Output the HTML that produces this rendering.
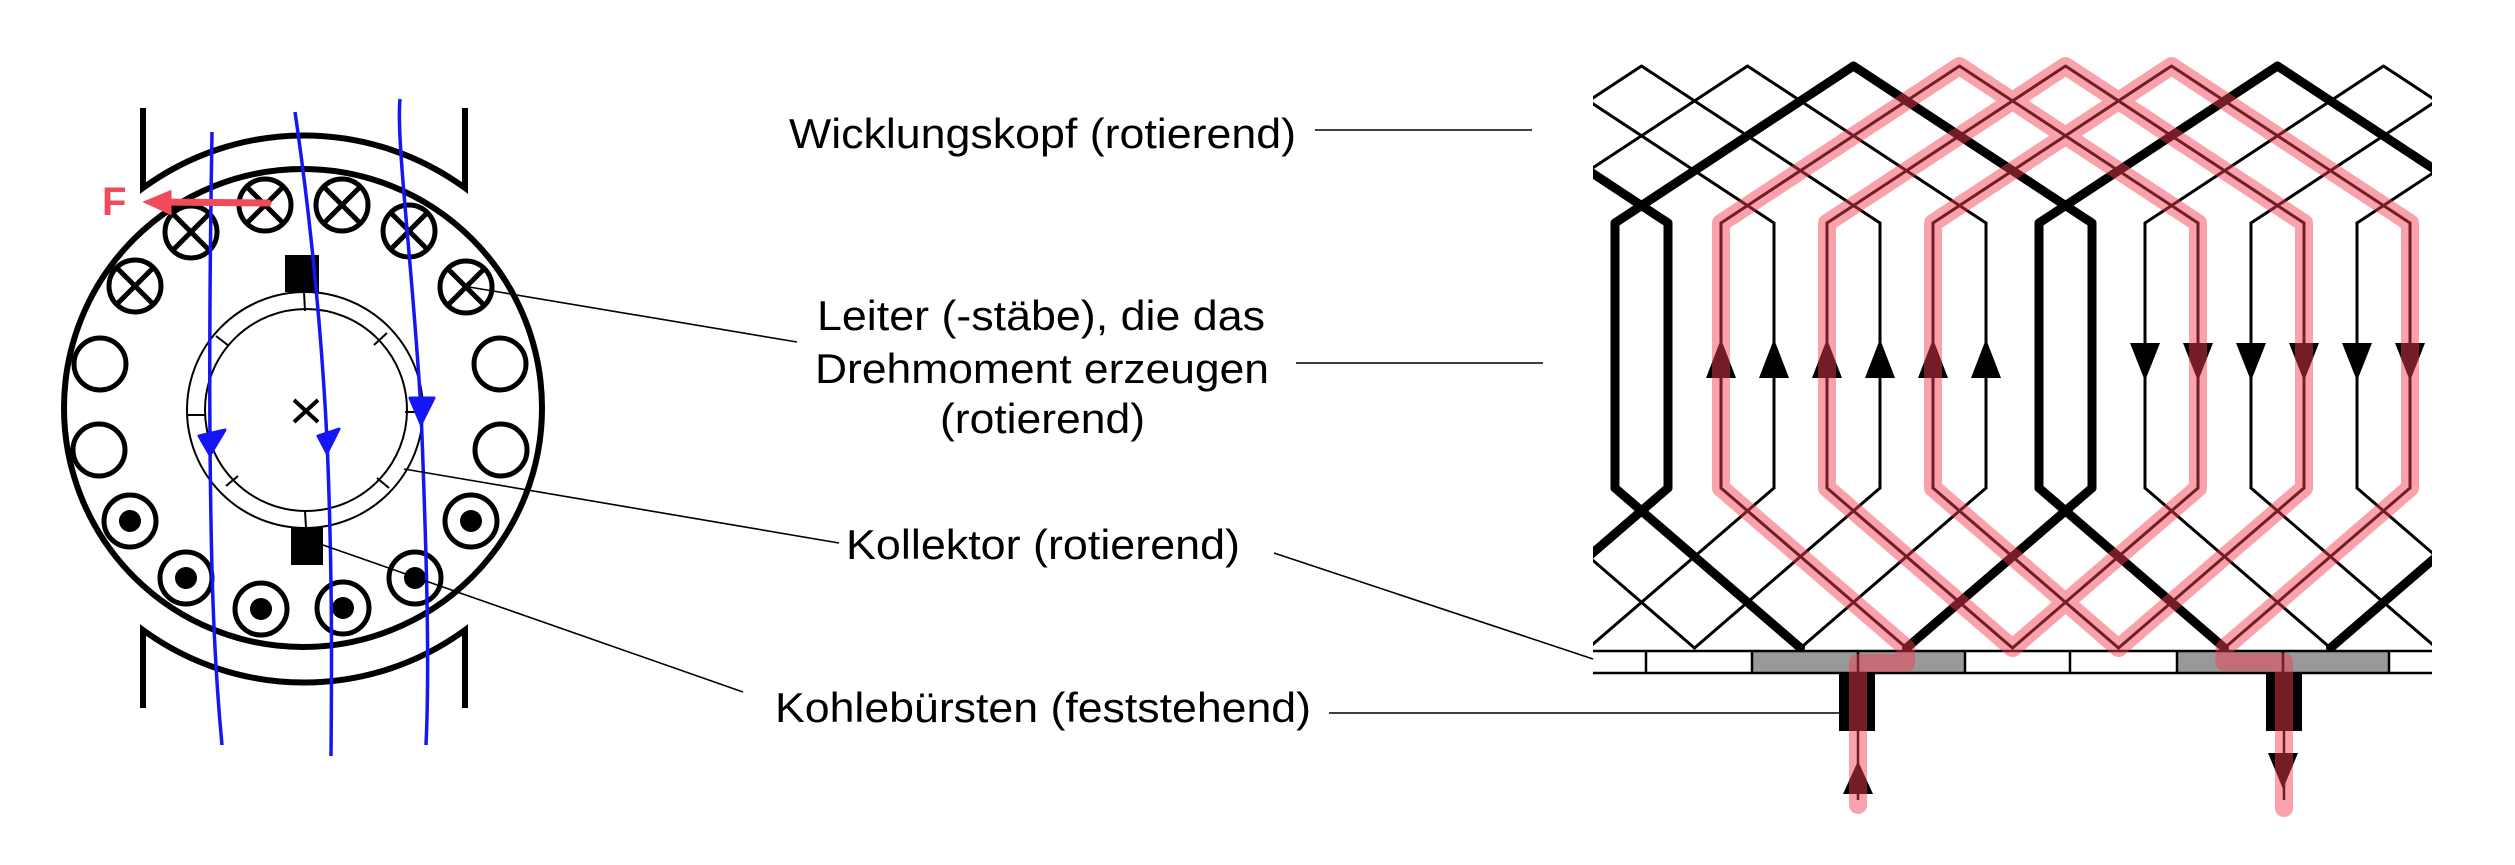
<!DOCTYPE html>
<html><head><meta charset="utf-8"><style>
html,body{margin:0;padding:0;background:#fff;}
svg{display:block;}
text{font-family:"Liberation Sans",Arial,sans-serif;font-size:42px;fill:#000;}
</style></head><body>
<svg width="2515" height="865" viewBox="0 0 2515 865" xmlns="http://www.w3.org/2000/svg">
<defs><clipPath id="wc"><rect x="1593" y="0" width="839" height="660"/></clipPath></defs>

<!-- LEFT DIAGRAM -->
<g fill="none" stroke="#000" stroke-width="6">
  <path d="M143,108 L143,188 A273,273 0 0 1 465,188 L465,108"/>
  <path d="M143,708 L143,630 A273,273 0 0 0 465,630 L465,708"/>
  <circle cx="303" cy="408" r="239"/>
</g>
<g fill="none" stroke="#000" stroke-width="5">
  <circle cx="191" cy="232" r="26"/><path d="M173,214 L209,250 M209,214 L173,250"/>
  <circle cx="265" cy="205" r="26"/><path d="M247,187 L283,223 M283,187 L247,223"/>
  <circle cx="342" cy="205" r="26"/><path d="M324,187 L360,223 M360,187 L324,223"/>
  <circle cx="409" cy="231" r="26"/><path d="M391,213 L427,249 M427,213 L391,249"/>
  <circle cx="466" cy="287" r="26"/><path d="M448,269 L484,305 M484,269 L448,305"/>
  <circle cx="135" cy="286" r="26"/><path d="M117,268 L153,304 M153,268 L117,304"/>
  <circle cx="100" cy="364" r="26"/><circle cx="99" cy="450" r="26"/>
  <circle cx="500" cy="364" r="26"/><circle cx="501" cy="450" r="26"/>
  <circle cx="130" cy="521" r="26"/><circle cx="186" cy="578" r="26"/>
  <circle cx="261" cy="609" r="26"/><circle cx="343" cy="608" r="26"/>
  <circle cx="415" cy="578" r="26"/><circle cx="471" cy="521" r="26"/>
</g>
<g fill="#000">
  <circle cx="130" cy="521" r="11"/><circle cx="186" cy="578" r="11"/>
  <circle cx="261" cy="609" r="11"/><circle cx="343" cy="608" r="11"/>
  <circle cx="415" cy="578" r="11"/><circle cx="471" cy="521" r="11"/>
  <rect x="285" y="255" width="34" height="37"/>
  <rect x="291" y="527" width="32" height="38"/>
</g>
<g fill="none" stroke="#000" stroke-width="2">
  <circle cx="305" cy="410" r="118"/>
  <circle cx="306" cy="410" r="101"/>
  <path d="M304,292 L305,311 M187,415 L205,415 M405,412 L423,412 M305,511 L306,528 M216,336 L229,346 M374,345 L387,333 M226,486 L238,476 M377,478 L389,488"/>
</g>
<path d="M294,400 L318,422 M318,400 L294,422" stroke="#000" stroke-width="4" fill="none"/>

<!-- blue field lines -->
<g fill="none" stroke="#1515f5" stroke-width="3.5">
  <path d="M212,132 C211,200 209,300 210,441 C211,560 213,650 222,745"/>
  <path d="M295,112 C305,180 320,300 327,440 C332,560 332,650 331,756"/>
  <path d="M400,99 C396,140 412,260 421,410 C426,540 430,660 426,745"/>
</g>
<g fill="#1515f5" stroke="#1515f5" stroke-width="3" stroke-linejoin="round">
  <path d="M199,436 L225,430 L210,455 Z"/>
  <path d="M318,436 L339,429 L327,453 Z"/>
  <path d="M410,398 L434,398 L421,424 Z"/>
</g>
<!-- force arrow -->
<g stroke="#f24a5a" fill="#f24a5a" stroke-linecap="round">
  <path d="M268,203 L160,202" stroke-width="7" fill="none"/>
  <path d="M146,202 L170,192 L170,213 Z" stroke-width="3"/>
</g>
<text x="102" y="215" style="font-size:40px;font-weight:bold;fill:#f24a5a">F</text>

<!-- leaders -->
<g stroke="#000" stroke-width="1.6" fill="none">
  <path d="M469,287 L797,342"/>
  <path d="M404,469 L839,543"/>
  <path d="M323,545 L743,692"/>
  <path d="M1315,130 L1532,130"/>
  <path d="M1296,363 L1543,363"/>
  <path d="M1274,553 L1593,659"/>
  <path d="M1329,713 L1839,713"/>
</g>
<text x="789" y="148" textLength="507" lengthAdjust="spacingAndGlyphs">Wicklungskopf (rotierend)</text>
<text x="817" y="330" textLength="448" lengthAdjust="spacingAndGlyphs">Leiter (-stäbe), die das</text>
<text x="815" y="383" textLength="454" lengthAdjust="spacingAndGlyphs">Drehmoment erzeugen</text>
<text x="940" y="433" textLength="205" lengthAdjust="spacingAndGlyphs">(rotierend)</text>
<text x="846" y="559" textLength="394" lengthAdjust="spacingAndGlyphs">Kollektor (rotierend)</text>
<text x="775" y="722" textLength="536" lengthAdjust="spacingAndGlyphs">Kohlebürsten (feststehend)</text>

<!-- WINDING -->
<g clip-path="url(#wc)" fill="none" stroke="#000" stroke-linejoin="round" stroke-linecap="round">
  <g stroke-width="3">
    <polyline points="1297,223 1535.5,66 1774,223"/>
    <polyline points="1403,223 1641.5,66 1880,223"/>
    <polyline points="1509,223 1747.5,66 1986,223"/>
    <polyline points="1721,223 1959.5,66 2198,223"/>
    <polyline points="1827,223 2065.5,66 2304,223"/>
    <polyline points="1933,223 2171.5,66 2410,223"/>
    <polyline points="2145,223 2383.5,66 2622,223"/>
    <polyline points="2251,223 2489.5,66 2728,223"/>
    <polyline points="2357,223 2595.5,66 2834,223"/>
    <path d="M1721,223 V488 M1774,223 V488 M1827,223 V488 M1880,223 V488 M1933,223 V488 M1986,223 V488 M2145,223 V488 M2198,223 V488 M2251,223 V488 M2304,223 V488 M2357,223 V488 M2410,223 V488"/>
    <path d="M1509,488 L1694.5,648 M1721,488 L1906.5,648 M1827,488 L2012.5,648 M1933,488 L2118.5,648 M2145,488 L2330.5,648 M2251,488 L2436.5,648 M2357,488 L2542.5,648"/>
    <path d="M1774,488 L1588.5,648 M1880,488 L1694.5,648 M1986,488 L1800.5,648 M2198,488 L2012.5,648 M2304,488 L2118.5,648 M2410,488 L2224.5,648"/>
  </g>
  <g stroke-width="9">
    <polyline points="1191,223 1429.5,66 1668,223 1668,488 1482.5,648"/>
    <polyline points="1800.5,648 1615,488 1615,223 1853.5,66 2092,223 2092,488 1906.5,648"/>
    <polyline points="2224.5,648 2039,488 2039,223 2277.5,66 2516,223"/>
    <path d="M2516,488 L2330.5,648"/>
  </g>
</g>
<!-- conductor arrows -->
<g fill="#000">
  <path d="M1721,339 L1706,378 L1736,378 Z"/>
  <path d="M1774,339 L1759,378 L1789,378 Z"/>
  <path d="M1827,339 L1812,378 L1842,378 Z"/>
  <path d="M1880,339 L1865,378 L1895,378 Z"/>
  <path d="M1933,339 L1918,378 L1948,378 Z"/>
  <path d="M1986,339 L1971,378 L2001,378 Z"/>
  <path d="M2145,381 L2130,343 L2160,343 Z"/>
  <path d="M2198,381 L2183,343 L2213,343 Z"/>
  <path d="M2251,381 L2236,343 L2266,343 Z"/>
  <path d="M2304,381 L2289,343 L2319,343 Z"/>
  <path d="M2357,381 L2342,343 L2372,343 Z"/>
  <path d="M2410,381 L2395,343 L2425,343 Z"/>
</g>
<!-- commutator -->
<rect x="1752" y="651" width="213" height="22" fill="#999"/>
<rect x="2177" y="651" width="212" height="22" fill="#999"/>
<g stroke="#000" stroke-width="2.5" fill="none">
  <path d="M1593,651 H2432 M1593,673 H2432"/>
  <path d="M1646,651 V673 M1752,651 V673 M1858,651 V673 M1965,651 V673 M2070,651 V673 M2177,651 V673 M2283,651 V673 M2389,651 V673"/>
  <path d="M1858,731 V800 M2284,731 V800"/>
</g>
<rect x="1839" y="673" width="36" height="58" fill="#000"/>
<rect x="2266" y="673" width="36" height="58" fill="#000"/>
<path d="M1858,761 L1843,794 L1873,794 Z" fill="#000"/>
<path d="M2268,753 L2298,753 L2283,789 Z" fill="#000"/>

<!-- red current path -->
<path d="M1858,805 L1858,663 L1906,663 L1906.5,648 L1721,488 L1721,223 L1959.5,66 L2198,223 L2198,488 L2012.5,648 L1827,488 L1827,223 L2065.5,66 L2304,223 L2304,488 L2118.5,648 L1933,488 L1933,223 L2171.5,66 L2410,223 L2410,488 L2224.5,648 L2224.5,662 L2284,662 L2284,808"
 fill="none" stroke="rgb(242,60,80)" stroke-opacity="0.48" stroke-width="18" stroke-linejoin="round" stroke-linecap="round"/>
</svg>
</body></html>
